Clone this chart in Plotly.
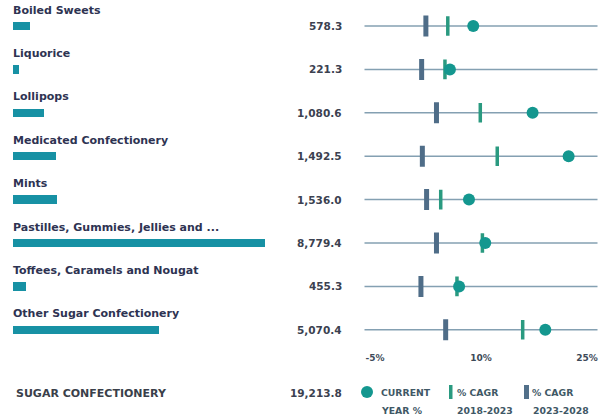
import plotly.graph_objects as go

categories = ["Boiled Sweets", "Liquorice", "Lollipops", "Medicated Confectionery",
              "Mints", "Pastilles, Gummies, Jellies and ...", "Toffees, Caramels and Nougat",
              "Other Sugar Confectionery"]
market_size = [578.3, 221.3, 1080.6, 1492.5, 1536.0, 8779.4, 455.3, 5070.4]
current_year_pct = [8.9, 5.6, 17.3, 22.4, 8.3, 10.6, 6.9, 19.1]
cagr_2018_2023 = [5.3, 4.9, 9.9, 12.3, 4.3, 10.2, 6.6, 15.9]
cagr_2023_2028 = [2.2, 1.6, 3.7, 1.7, 2.3, 3.7, 1.5, 5.0]
total_label = "SUGAR CONFECTIONERY"
total_value = 19213.8
tick_vals = [-5, 10, 25]
tick_text = ["-5%", "10%", "25%"]
legend_line1 = ["CURRENT", "% CAGR", "% CAGR"]
legend_line2 = ["YEAR %", "2018-2023", "2023-2028"]

W, H = 616, 417
rows = list(range(len(categories)))
PITCH = 43.4
TOP = 26.0
y_top = -TOP / PITCH
y_bot = (H - TOP) / PITCH
FONT = "DejaVu Sans"

def ypx(py):
    return (py - TOP) / PITCH

fig = go.Figure()

# bars (market size)
fig.add_trace(go.Bar(
    x=market_size, y=rows, orientation="h", width=0.19,
    marker=dict(color="#1791a4", line=dict(width=0)),
    xaxis="x", yaxis="y", hoverinfo="skip", showlegend=False))

# row lines
for i in rows:
    fig.add_shape(type="line", xref="x2 domain", yref="y", x0=0, x1=1, y0=i, y1=i,
                  line=dict(color="#84a0b2", width=1.5), layer="below")

# dot markers
fig.add_trace(go.Scatter(
    x=cagr_2023_2028, y=rows, mode="markers", xaxis="x2", yaxis="y",
    marker=dict(symbol="line-ns", size=15, line=dict(width=5, color="#4f6d88")),
    hoverinfo="skip", showlegend=False))
fig.add_trace(go.Scatter(
    x=cagr_2018_2023, y=rows, mode="markers", xaxis="x2", yaxis="y",
    marker=dict(symbol="line-ns", size=14, line=dict(width=3.5, color="#2a9a80")),
    hoverinfo="skip", showlegend=False))
fig.add_trace(go.Scatter(
    x=current_year_pct, y=rows, mode="markers", xaxis="x2", yaxis="y",
    marker=dict(symbol="circle", size=12, color="#14978f", line=dict(width=0)),
    hoverinfo="skip", showlegend=False))

ann = []
label_font = dict(family=FONT, size=11, color="#2e3352", weight="bold")
val_font = dict(family=FONT, size=10.5, color="#3b4150", weight="bold")
for i, (c, v) in enumerate(zip(categories, market_size)):
    ann.append(dict(text=c, xref="paper", yref="y", x=11 / W, y=i - 16 / PITCH,
                    xanchor="left", yanchor="middle", showarrow=False, font=label_font))
    ann.append(dict(text=f"{v:,.1f}", xref="paper", yref="y", x=344 / W, y=i,
                    xanchor="right", yanchor="middle", showarrow=False, font=val_font))

ann.append(dict(text=total_label, xref="paper", yref="y", x=14 / W, y=ypx(393),
                xanchor="left", yanchor="middle", showarrow=False,
                font=dict(family=FONT, size=11, color="#3a3f4a", weight="bold")))
ann.append(dict(text=f"{total_value:,.1f}", xref="paper", yref="y", x=344 / W, y=ypx(393),
                xanchor="right", yanchor="middle", showarrow=False, font=val_font))

leg_font = dict(family=FONT, size=9.3, color="#3f5866", weight="bold")
legend_x1 = [379, 455, 530]
legend_x2 = [379, 455, 531]
for t1, t2, x1, x2 in zip(legend_line1, legend_line2, legend_x1, legend_x2):
    ann.append(dict(text=t1, xref="paper", yref="y", x=x1 / W, y=ypx(392),
                    xanchor="left", yanchor="middle", showarrow=False, font=leg_font))
    ann.append(dict(text=t2, xref="paper", yref="y", x=x2 / W, y=ypx(410),
                    xanchor="left", yanchor="middle", showarrow=False, font=leg_font))
fig.update_layout(annotations=ann)

# legend icons
fig.add_shape(type="circle", xref="paper", yref="y", x0=361 / W, x1=373 / W,
              y0=ypx(386), y1=ypx(398), fillcolor="#14978f", line=dict(width=0))
fig.add_shape(type="rect", xref="paper", yref="y", x0=449 / W, x1=452.5 / W,
              y0=ypx(385), y1=ypx(399), fillcolor="#2a9a80", line=dict(width=0))
fig.add_shape(type="rect", xref="paper", yref="y", x0=524 / W, x1=529 / W,
              y0=ypx(385), y1=ypx(399), fillcolor="#52708a", line=dict(width=0))

x2_lo = -5 - (375 - 364.5) / 7.067
x2_hi = 25 + (597.5 - 587) / 7.067

fig.update_layout(
    width=W, height=H, margin=dict(l=0, r=0, t=0, b=0),
    paper_bgcolor="white", plot_bgcolor="rgba(0,0,0,0)",
    bargap=0,
    xaxis=dict(domain=[13 / W, 265 / W], range=[0, max(market_size)], visible=False,
               fixedrange=True),
    xaxis2=dict(domain=[364.5 / W, 597.5 / W], range=[x2_lo, x2_hi],
                anchor="free", position=(H - 351) / H, tickvals=tick_vals, ticktext=tick_text,
                showgrid=False, zeroline=False, showline=False, ticks="",
                tickfont=dict(family=FONT, size=9, color="#3d4a58", weight="bold"),
                fixedrange=True),
    yaxis=dict(domain=[0, 1], range=[y_bot, y_top], visible=False, fixedrange=True),
    showlegend=False,
)

fig.write_html("out.html", config={"displayModeBar": False},
               post_script="document.body.style.margin='0';document.body.style.overflow='hidden';")
